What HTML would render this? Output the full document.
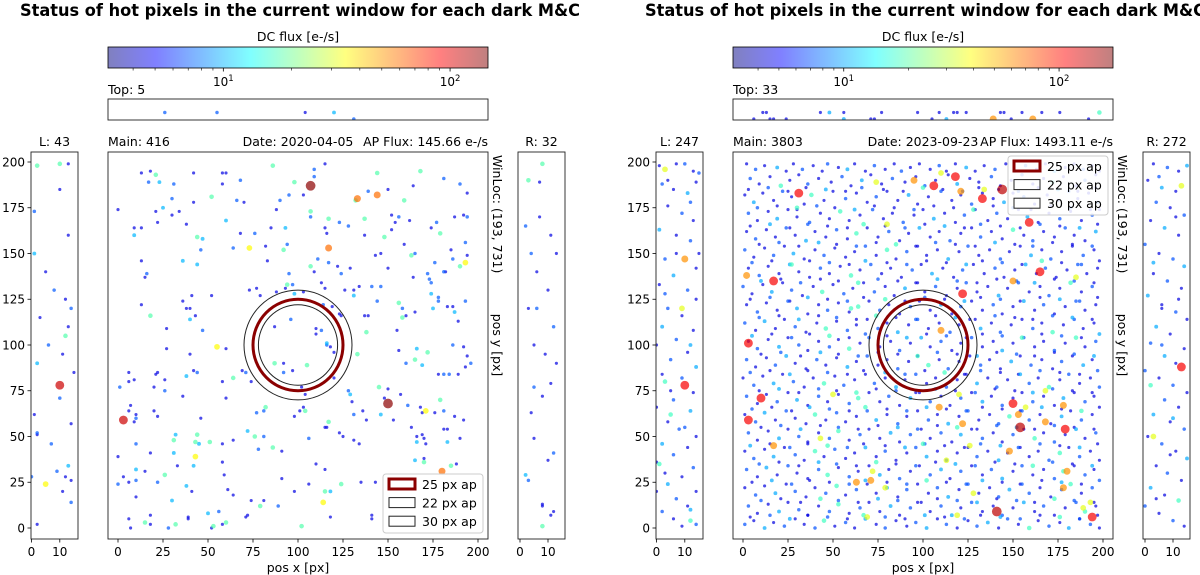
<!DOCTYPE html>
<html><head><meta charset="utf-8">
<style>
html,body{margin:0;padding:0;background:#fff;}
svg{display:block;font-family:"DejaVu Sans","Liberation Sans",sans-serif;}
</style></head>
<body>
<svg id="fig" xmlns="http://www.w3.org/2000/svg" width="1200" height="575" viewBox="0 0 1200 575"></svg>
<script>
// ---------- data ----------
const FLUX = {b:4.5,l:7,c:10,g:18,y:35,o:60,r:110,d:140};
const axisTicks = [0,25,50,75,100,125,150,175,200];
const stripTicks = [0,10];
const cbarMajor = [10,100];
const cbarMajorLabels = ["1","2"];
const cbarMinor = [4,5,6,7,8,9,20,30,40,50,60,70,80,90];
const apertureRadii = [25,22,30];
const legendLabels = ["25 px ap","22 px ap","30 px ap"];

const leftTitleTexts = ["Top: 5","L: 43","Main: 416","Date: 2020-04-05","AP Flux: 145.66 e-/s","R: 32"];
const rightTitleTexts = ["Top: 33","L: 247","Main: 3803","Date: 2023-09-23","AP Flux: 1493.11 e-/s","R: 272"];

const leftMainPts = "13,194,b 18,195,b 21,193,g 17,189,l 23,189,c 31,188,l 42,194,b 58,194,b 60,194,b 58,188,b 68,190,l 86,198,g 109,196,l 115,199,b 98,189,g 107,187,d 109,192,l 144,194,g 168,195,g 181,191,l 190,188,l 194,183,b 133,180,o 144,182,o 132,179,g 159,179,g 164,187,b 150,185,b 139,184,l 0,174,b 21,173,b 25,175,c 30,180,l 34,173,b 42,178,b 52,181,g 66,179,l 70,178,b 88,174,b 90,179,l 95,182,l 103,182,b 107,173,g 107,170,l 117,169,g 123,167,l 128,165,l 137,169,g 152,171,b 156,170,l 162,168,b 177,167,l 187,170,b 192,171,b 194,170,l 9,164,b 13,164,b 9,160,c 22,167,b 30,171,b 38,166,b 60,168,c 44,159,g 47,158,c 68,161,b 76,161,l 85,164,b 93,164,c 115,164,b 116,161,b 137,160,b 148,159,g 152,163,b 154,167,b 174,164,b 179,161,g 193,156,l 73,153,y 46,152,l 64,153,l 82,154,b 92,152,g 94,155,l 117,153,o 13,146,b 36,146,c 44,144,c 83,146,b 111,147,l 117,145,l 107,143,g 109,140,b 122,143,b 124,139,l 129,142,b 143,149,b 146,150,b 150,142,b 159,155,b 163,149,g 165,150,l 176,145,l 181,140,l 185,152,b 186,147,l 190,143,g 193,145,y 194,149,b 15,137,b 16,139,l 95,139,l 94,133,g 97,133,l 93,131,b 77,131,b 73,130,b 79,127,b 52,127,b 41,127,b 13,122,b 36,124,b 38,120,b 40,120,b 18,116,g 40,114,c 43,116,b 27,109,b 47,108,l 113,134,b 115,131,b 126,130,b 131,130,b 131,127,c 134,132,b 141,132,l 146,132,l 144,124,l 156,123,g 158,120,l 160,116,b 158,115,g 165,118,b 137,116,b 139,116,b 138,107,g 155,108,b 164,137,b 172,139,l 173,136,l 174,134,l 174,128,c 178,126,l 178,124,l 183,121,b 186,121,b 187,118,c 189,113,b 175,120,c 182,140,b 193,124,l 186,100,l 192,99,b 166,98,c 55,99,y 60,98,b 27,98,b 96,114,l 87,110,b 110,109,b 113,108,l 110,106,b 116,101,c 114,122,l 119,121,b 123,117,b 124,116,b 103,129,b 98,128,c 88,129,b 40,95,b 6,85,b 6,80,b 9,81,b 1,77,l 21,84,b 22,85,b 26,81,b 20,77,b 26,75,l 38,83,c 42,86,b 44,85,l 36,72,b 58,80,b 64,82,g 69,86,b 71,85,l 74,80,b 60,71,b 87,90,g 92,90,b 92,85,l 97,86,b 105,89,g 102,77,b 104,73,b 116,100,l 118,99,b 120,96,b 133,95,g 120,82,b 128,75,l 129,73,c 130,69,b 145,77,g 150,76,b 150,68,d 148,71,b 156,97,b 172,96,g 160,90,l 165,92,g 169,89,c 194,94,b 196,90,l 193,88,b 178,84,b 181,84,l 184,84,l 189,84,b 179,70,g 181,64,l 176,63,b 171,64,y 168,66,b 169,63,b 161,67,l 157,73,b 153,59,b 163,55,b 166,50,b 169,51,b 170,49,b 166,47,c 171,46,b 181,54,b 183,54,b 190,49,b 183,47,c 187,61,b 192,59,b 165,37,c 170,38,b 170,36,g 180,31,o 185,34,g 188,35,b 3,59,r 10,62,b 10,60,l 6,64,b 7,67,b 9,58,b 20,64,b 22,61,b 46,60,b 31,48,g 32,51,c 43,47,g 44,51,g 45,46,c 51,47,g 58,46,b 64,48,b 72,53,c 76,50,g 81,50,l 78,43,l 86,44,g 91,42,b 77,63,l 82,66,g 81,64,l 98,61,b 101,64,b 104,64,g 103,66,b 117,58,g 115,55,b 116,55,b 106,49,l 123,52,b 125,50,b 131,48,b 134,46,b 131,62,l 138,59,b 136,64,b 146,62,c 0,39,b 10,46,l 18,41,b 31,41,c 33,34,b 42,34,c 43,39,y 58,36,b 59,29,b 10,32,c 15,31,b 3,28,b 6,25,b 0,24,l 10,26,l 22,25,l 26,29,g 38,23,c 41,20,b 10,17,b 30,15,c 61,21,b 64,18,b 74,15,b 81,15,b 79,12,g 89,12,l 91,27,b 98,20,b 106,24,b 110,35,b 115,32,b 124,24,g 115,20,g 118,20,c 114,14,y 118,6,b 135,25,b 143,25,b 141,7,b 141,5,b 6,5,b 7,0,b 15,3,g 18,2,b 18,7,b 28,0,l 32,2,g 39,6,b 39,5,b 50,8,c 53,1,g 52,0,b 56,9,l 58,2,b 60,3,g 71,6,b 72,7,b 102,1,g";
const leftLStripPts = "2,198,g 10,199,g 13,199,b 10,185,b 1,173,l 13,160,b 1,150,c 12,125,b 14,120,l 6,100,l 2,90,c 12,105,g 13,110,b 10,78,r 10,71,l 14,57,b 2,52,l 2,51,b 7,46,l 13,34,c 9,31,l 12,28,b 0,28,l 5,24,y 14,26,b 11,20,b 14,14,l 2,2,b 5,140,b 8,130,l 3,115,b 11,95,b 1,62,b 15,85,b";
const leftRStripPts = "8,199,g 3,190,g 7,189,b 4,150,l 6,140,b 10,130,b 3,120,b 12,110,l 5,100,b 9,95,b 11,160,b 2,165,l 7,170,b 13,90,b 5,77,l 11,79,b 8,72,b 4,63,b 5,49,b 12,41,l 10,37,b 2,29,c 3,26,l 8,13,b 8,12,b 12,9,b 11,7,b 8,1,g 13,150,b 6,120,l";
const leftTopStripPts = "26,3,l 55,3,l 104,3,b 120,3,c 131,0.5,l";

const rightMainPts = "2,199,b 7,196,l 12,198,b 19,197,c 24,195,b 28,199,b 33,196,l 39,198,b 44,195,b 47,199,l 53,197,b 58,196,c 62,199,b 68,195,b 73,198,l 79,196,b 84,199,b 88,195,l 93,197,b 98,199,b 104,196,b 109,198,l 113,195,b 118,199,b 124,197,c 129,195,b 134,198,b 140,196,l 146,199,b 151,195,b 157,198,l 163,196,b 168,199,b 173,195,c 179,197,b 184,199,b 189,196,l 194,198,b 198,195,b "+
"4,191,l 9,188,b 15,192,b 21,187,g 26,190,b 31,193,b 36,188,l 42,191,b 49,189,b 55,192,l 60,187,b 66,190,c 71,193,b 77,188,b 83,191,l 90,189,b 96,192,b 101,187,l 107,190,b 114,193,b 119,188,c 126,191,b 131,189,b 138,192,l 143,187,b 149,190,b 155,193,l 161,188,b 167,191,b 172,189,g 178,192,b 185,187,b 190,190,l 196,193,b "+
"1,182,b 6,178,c 11,183,b 17,179,b 22,184,l 27,181,b 34,177,b 38,182,g 45,179,b 50,184,b 57,180,l 63,183,b 69,178,b 74,181,l 80,184,b 86,179,b 92,182,c 97,177,b 103,181,b 110,184,l 116,179,b 121,182,b 127,177,l 133,183,b 139,180,b 145,178,c 150,183,b 156,181,l 162,177,b 169,182,b 175,179,b 181,184,l 186,180,b 192,183,b 197,178,l "+
"3,172,l 8,168,b 14,173,b 19,169,c 25,174,b 30,170,b 37,167,l 43,172,b 48,169,b 54,173,g 59,168,b 65,171,b 72,174,l 78,169,b 83,172,b 89,167,l 95,171,b 100,174,b 106,169,c 112,172,b 118,167,b 123,171,l 129,174,b 136,168,b 141,172,l 147,169,b 153,174,b 158,170,c 164,167,b 170,172,b 176,169,l 182,173,b 188,168,b 194,171,l 198,174,b "+
"2,162,b 7,158,l 13,163,b 18,159,b 24,164,l 29,160,b 35,157,c 40,162,b 46,159,b 52,163,l 58,158,b 63,161,g 69,164,b 75,159,b 81,162,l 87,157,b 92,161,b 98,164,c 104,159,b 109,162,b 115,157,l 121,161,b 127,164,b 132,159,l 138,162,b 144,158,b 150,163,g 156,160,b 161,157,l 167,162,b 173,159,b 179,164,l 184,160,b 190,157,b 196,162,c "+
"1,152,l 6,148,b 12,153,b 17,149,l 23,154,b 28,150,c 34,147,b 40,152,b 45,149,l 51,153,b 57,148,b 62,151,b 68,154,l 74,149,b 80,152,g 85,147,b 91,151,l 97,154,b 102,149,b 108,152,b 114,147,c 120,151,b 125,154,l 131,149,b 137,152,b 143,147,l 148,151,b 154,154,b 160,149,c 166,152,b 171,147,l 177,151,b 183,154,b 189,149,l 195,152,b "+
"3,142,b 9,138,l 14,143,b 20,139,b 26,144,c 31,140,b 37,137,b 43,142,l 48,139,b 54,143,b 60,138,g 65,141,b 71,144,l 77,139,b 82,142,b 88,137,b 94,141,l 99,144,b 105,139,c 111,142,b 117,137,b 122,141,l 128,144,b 134,139,b 140,142,l 145,137,b 151,141,b 157,144,c 163,139,b 168,142,l 174,137,b 180,141,b 186,144,l 191,139,b 197,142,b "+
"0,132,l 5,128,b 11,133,b 16,129,c 22,134,b 27,130,l 33,127,b 39,132,b 44,129,g 50,133,b 56,128,l 61,131,b 67,134,b 73,129,l 79,132,b 84,127,b 90,131,c 96,134,b 101,129,b 107,132,l 113,127,b 119,131,b 124,134,l 130,129,b 136,132,b 142,127,c 147,131,b 153,134,l 159,129,b 165,132,b 170,127,l 176,131,b 182,134,g 188,129,b 194,132,l "+
"2,122,b 8,118,l 13,123,b 19,119,b 25,124,l 30,120,c 36,117,b 42,122,b 47,119,l 53,123,b 59,118,b 64,121,g 70,124,b 76,119,l 81,122,b 87,117,b 93,121,l 98,124,b 104,119,b 110,122,c 116,117,b 121,121,l 127,124,b 133,119,b 139,122,l 144,117,b 150,121,b 156,124,c 162,119,b 167,122,l 173,117,b 179,121,b 185,124,l 190,119,b 196,122,b "+
"1,112,l 7,108,b 12,113,c 18,109,b 23,114,b 29,110,l 35,107,b 41,112,b 46,109,g 52,113,b 58,108,l 63,111,b 69,114,b 75,109,l 80,112,b 86,107,c 92,111,b 97,114,l 103,109,b 109,112,b 115,107,l 120,111,b 126,114,b 132,109,c 138,112,b 143,107,l 149,111,b 155,114,b 161,109,l 166,112,b 172,107,g 178,111,b 184,114,l 189,109,b 195,112,b "+
"3,102,b 8,98,l 14,103,b 20,99,c 25,104,b 31,100,l 36,97,b 42,102,b 48,99,l 53,103,b 59,98,g 65,101,b 70,104,l 76,99,b 82,102,b 87,97,l 93,101,b 99,104,c 104,99,b 110,102,l 116,97,b 121,101,b 127,104,l 133,99,b 139,102,b 144,97,c 150,101,b 156,104,l 162,99,b 167,102,b 173,97,l 179,101,b 185,104,g 190,99,b 196,102,l "+
"2,92,l 7,88,b 13,93,b 18,89,l 24,94,c 29,90,b 35,87,b 41,92,l 46,89,b 52,93,b 58,88,c 63,91,b 69,94,l 75,89,b 80,92,b 86,87,l 92,91,b 97,94,b 103,89,g 109,92,b 114,87,l 120,91,b 126,94,b 132,89,l 137,92,b 143,87,b 149,91,c 154,94,b 160,89,l 166,92,b 172,87,b 177,91,l 183,94,b 189,89,c 194,92,b "+
"0,82,b 6,78,l 11,83,b 17,79,c 22,84,b 28,80,l 34,77,b 39,82,b 45,79,g 51,83,b 56,78,l 62,81,b 68,84,b 73,79,l 79,82,b 85,77,c 90,81,b 96,84,l 102,79,b 107,82,b 113,77,l 119,81,b 124,84,b 130,79,c 136,82,b 141,77,l 147,81,b 153,84,b 159,79,l 164,82,b 170,77,g 176,81,b 181,84,l 187,79,b 193,82,b 198,77,l "+
"2,72,l 8,68,b 13,73,b 19,69,l 25,74,b 30,70,c 36,67,b 42,72,l 47,69,b 53,73,b 59,68,l 64,71,g 70,74,b 76,69,b 81,72,l 87,67,b 93,71,c 98,74,b 104,69,l 110,72,b 115,67,b 121,71,l 127,74,b 133,69,c 138,72,b 144,67,l 150,71,b 155,74,b 161,69,l 167,72,b 173,67,b 178,71,c 184,74,b 190,69,l 195,72,b "+
"1,62,b 7,58,l 12,63,c 18,59,b 24,64,l 29,60,b 35,57,b 40,62,g 46,59,b 52,63,l 57,58,b 63,61,b 69,64,l 74,59,c 80,62,b 86,57,l 91,61,b 97,64,b 103,59,l 108,62,b 114,57,c 120,61,b 125,64,l 131,59,b 137,62,b 142,57,l 148,61,g 154,64,b 159,59,l 165,62,b 171,57,b 177,61,c 182,64,b 188,59,l 194,62,b "+
"3,52,l 8,48,b 14,53,b 20,49,c 25,54,b 31,50,l 36,47,b 42,52,b 48,49,l 53,53,g 59,48,b 65,51,l 70,54,b 76,49,b 82,52,c 87,47,b 93,51,l 99,54,b 104,49,b 110,52,l 116,47,b 121,51,c 127,54,b 133,49,l 139,52,b 144,47,b 150,51,l 156,54,b 162,49,g 167,52,b 173,47,l 179,51,b 185,54,c 190,49,b 196,52,l "+
"1,42,b 6,38,l 12,43,b 17,39,c 23,44,b 29,40,l 34,37,b 40,42,g 45,39,b 51,43,l 57,38,b 62,41,b 68,44,c 74,39,b 79,42,l 85,37,b 91,41,b 96,44,l 102,39,c 108,42,b 113,37,l 119,41,b 125,44,b 130,39,l 136,42,b 142,37,c 147,41,b 153,44,l 159,39,b 164,42,b 170,37,l 176,41,g 181,44,b 187,39,l 193,42,b 198,37,b "+
"2,32,l 8,28,b 13,33,c 19,29,b 25,34,l 30,30,b 36,27,b 42,32,l 47,29,g 53,33,b 59,28,l 64,31,b 70,34,b 76,29,c 81,32,b 87,27,l 93,31,b 98,34,b 104,29,l 110,32,c 115,27,b 121,31,l 127,34,b 133,29,b 138,32,l 144,27,c 150,31,b 155,34,l 161,29,b 167,32,b 173,27,l 178,31,g 184,34,b 190,29,l 195,32,b "+
"1,22,b 7,18,l 12,23,b 18,19,c 24,24,b 29,20,l 35,17,b 40,22,b 46,19,l 52,23,g 57,18,b 63,21,l 69,24,b 74,19,b 80,22,c 86,17,b 91,21,l 97,24,b 103,19,b 108,22,l 114,17,c 120,21,b 125,24,l 131,19,b 137,22,b 142,17,l 148,21,c 154,24,b 159,19,l 165,22,b 171,17,b 177,21,l 182,24,g 188,19,b 194,22,l "+
"3,12,l 8,8,b 14,13,b 20,9,c 25,14,b 31,10,l 36,7,b 42,12,b 48,9,l 53,13,g 59,8,b 65,11,l 70,14,b 76,9,b 82,12,c 87,7,b 93,11,l 99,14,b 104,9,b 110,12,l 116,7,c 121,11,b 127,14,l 133,9,b 139,12,b 144,7,l 150,11,b 156,14,c 162,9,b 167,12,l 173,7,b 179,11,b 185,14,l 190,9,g 196,12,b "+
"1,2,l 6,4,b 12,0,c 17,3,b 23,1,l 29,5,b 34,2,b 40,0,l 45,4,g 51,1,b 57,3,l 62,0,b 68,5,c 74,2,b 79,0,l 85,4,b 91,1,b 96,3,l 102,0,c 108,5,b 113,2,l 119,0,b 125,4,b 130,1,l 136,3,c 142,0,b 147,5,l 153,2,b 159,0,g 164,4,b 170,1,l 176,3,b 181,0,c 187,5,b 193,2,l 198,0,b";
const rightMainExtraPts = "3,185,b 14,186,l 25,184,b 35,186,b 46,185,c 57,184,b 66,186,l 78,185,b 89,184,b 100,186,g 111,185,b 122,184,l 131,186,b 142,185,b 153,184,l 164,186,b 175,185,c 186,184,b 196,186,b "+
"8,175,l 19,176,b 30,174,b 41,176,l 51,175,b 62,174,c 73,176,b 84,175,b 95,174,l 106,176,b 117,175,b 128,174,g 139,176,b 150,175,l 160,174,b 171,176,b 182,175,l 193,174,b "+
"4,165,b 15,166,c 26,164,b 36,166,l 47,165,b 58,164,b 67,166,g 79,165,b 90,164,l 101,166,b 112,165,c 123,164,b 132,166,l 143,165,b 154,164,b 165,166,l 176,165,b 187,164,c 197,166,b "+
"9,155,b 20,156,l 31,154,b 42,156,c 52,155,b 63,154,l 74,156,b 85,155,g 96,154,b 107,156,l 118,155,b 129,154,b 140,156,c 151,155,b 161,154,l 172,156,b 183,155,b 194,154,l "+
"5,145,l 16,146,b 27,144,g 37,146,b 48,145,l 59,144,b 68,146,c 80,145,b 91,144,l 102,146,b 113,145,b 124,144,c 133,146,b 144,145,l 155,144,b 166,146,g 177,145,b 188,144,l 198,146,b "+
"10,135,c 21,136,b 32,134,l 43,136,b 53,135,b 64,134,g 75,136,l 86,135,b 97,134,b 108,136,c 119,135,l 130,134,b 141,136,b 152,135,l 162,134,c 173,136,b 184,135,l 195,134,b "+
"4,125,b 15,126,l 26,124,b 36,126,c 47,125,b 58,124,l 67,126,b 79,125,g 90,124,b 101,126,l 112,125,b 123,124,c 132,126,b 143,125,l 154,124,b 165,126,b 176,125,c 187,124,l 197,126,b "+
"9,115,l 20,116,b 31,114,c 42,116,b 52,115,l 63,114,b 74,116,g 85,115,b 96,114,l 107,116,b 118,115,c 129,114,b 140,116,l 151,115,b 161,114,b 172,116,l 183,115,c 194,114,b "+
"5,105,c 16,106,b 27,104,l 37,106,b 48,105,g 59,104,b 68,106,l 80,105,b 91,104,c 102,106,b 113,105,l 124,104,b 133,106,b 144,105,l 155,104,g 166,106,b 177,105,l 188,104,b 198,106,c "+
"10,95,b 21,96,l 32,94,b 43,96,c 53,95,b 64,94,l 75,96,b 86,95,b 97,94,g 108,96,l 119,95,b 130,94,c 141,96,b 152,95,l 162,94,b 173,96,b 184,95,l 195,94,c "+
"4,85,l 15,86,b 26,84,c 36,86,b 47,85,l 58,84,b 67,86,b 79,85,c 90,84,l 101,86,b 112,85,g 123,84,b 132,86,l 143,85,b 154,84,c 165,86,l 176,85,b 187,84,b 197,86,l "+
"9,75,b 20,76,c 31,74,b 42,76,l 52,75,b 63,74,g 74,76,b 85,75,l 96,74,b 107,76,c 118,75,b 129,74,l 140,76,b 151,75,b 161,74,c 172,76,l 183,75,b 194,74,b "+
"5,65,l 16,66,b 27,64,b 37,66,c 48,65,l 59,64,b 68,66,g 80,65,b 91,64,l 102,66,c 113,65,b 124,64,l 133,66,b 144,65,b 155,64,l 166,66,c 177,65,b 188,64,g 198,66,b "+
"10,55,b 21,56,l 32,54,c 43,56,b 53,55,l 64,54,b 75,56,b 86,55,c 97,54,l 108,56,b 119,55,g 130,54,b 141,56,l 152,55,c 162,54,b 173,56,l 184,55,b 195,54,b "+
"4,45,c 15,46,b 26,44,l 36,46,b 47,45,g 58,44,l 67,46,b 79,45,b 90,44,c 101,46,l 112,45,b 123,44,b 132,46,l 143,45,c 154,44,b 165,46,l 176,45,b 187,44,c 197,46,b "+
"9,35,l 20,36,b 31,34,b 42,36,c 52,35,l 63,34,b 74,36,g 85,35,b 96,34,l 107,36,b 118,35,c 129,34,l 140,36,b 151,35,b 161,34,g 172,36,l 183,35,b 194,34,c "+
"5,25,b 16,26,c 27,24,l 37,26,b 48,25,b 59,24,l 68,26,c 80,25,b 91,24,l 102,26,g 113,25,b 124,24,l 133,26,c 144,25,b 155,24,l 166,26,b 177,25,c 188,24,b 198,26,l "+
"10,15,l 21,16,b 32,14,b 43,16,g 53,15,l 64,14,b 75,16,c 86,15,l 97,14,b 108,16,b 119,15,l 130,14,c 141,16,b 152,15,l 162,14,b 173,16,g 184,15,l 195,14,b "+
"4,6,b 15,7,l 26,5,c 36,7,b 47,6,l 58,5,b 67,7,g 79,6,l 90,5,b 101,7,c 112,6,b 123,5,l 132,7,b 143,6,c 154,5,l 165,7,b 176,6,g 187,5,l 197,7,b";
const rightMainBigPts = "10,71,r 3,59,r 17,45,o 63,25,o 71,26,o 72,31,y 79,22,y 109,66,o 122,57,o 126,45,y 150,68,r 153,62,o 154,55,d 168,58,o 178,67,o 179,54,r 180,31,o 178,22,o 148,42,o 141,9,d 194,6,r 168,75,y 50,73,y 120,73,y 128,19,y 119,7,y 193,14,y 189,11,y 69,6,y 113,37,y 157,66,y 31,183,r 106,187,r 118,192,r 144,185,d 121,184,o 95,190,o 110,194,y 74,189,y 134,185,y 133,180,r 165,140,r 159,167,r 17,135,r 3,101,r 2,138,o 185,137,y 122,128,r 110,108,o 150,135,o 80,166,y 43,49,y 100,46,g 30,175,g 60,120,g";
const rightLStripPts = "1,198,b 3,196,y 7,199,b 10,199,l 13,195,b 15,194,l 2,188,l 6,185,b 11,183,c 14,189,b 4,176,b 9,172,l 13,168,b 1,163,c 7,160,b 12,157,l 15,150,b 3,147,l 10,147,o 14,142,b 6,138,c 1,133,b 11,130,l 14,125,b 4,120,l 9,116,b 2,110,c 13,108,b 7,103,l 0,100,b 11,96,b 5,92,l 14,88,c 2,84,b 9,82,l 3,80,g 10,78,r 13,74,b 6,70,l 0,66,b 12,64,c 4,58,b 8,54,l 14,50,b 2,46,c 11,44,b 6,40,l 0,36,b 13,33,l 1,35,g 9,28,b 4,24,c 14,20,b 7,16,l 11,12,b 2,9,l 6,5,b 12,4,g 9,1,b 14,2,l 0,20,b 5,62,g 9,120,y 4,190,b 12,178,l 7,150,b 3,128,l 12,100,c 5,75,b 10,55,l 3,30,b 12,10,c";
const rightRStripPts = "3,199,b 8,197,l 12,195,b 15,198,c 1,190,b 6,186,c 11,184,b 13,187,y 4,178,l 9,175,b 14,171,l 2,168,b 7,164,c 12,160,b 0,155,l 5,150,b 10,147,l 14,143,c 3,139,b 8,135,l 13,131,b 1,127,c 6,122,b 11,118,l 15,114,b 4,110,c 9,106,b 2,101,l 14,98,b 7,94,c 11,90,b 0,86,l 13,88,r 5,82,b 10,78,l 2,78,g 15,74,b 7,70,l 12,66,b 3,62,c 9,58,b 14,54,l 1,50,b 3,50,y 6,46,l 11,42,b 15,38,c 4,34,b 8,30,l 13,26,b 2,22,c 7,18,b 12,15,g 0,12,l 5,8,b 10,4,l 14,1,b 9,40,b 6,120,b 5,192,l 11,170,b 3,145,c 12,125,b 6,100,l 10,60,c 4,16,b";
const rightTopStripPts = "11,3,b 13,3,b 6,0.5,b 15,0.5,b 17,0.5,b 24,0.5,b 43,3,b 48,3,c 56,3,b 56,0.5,c 71,0.5,b 73,0.5,b 77,3,b 97,3,b 105,0.5,b 109,3,b 113,0.5,c 117,3,b 119,3,b 124,3,b 139,0.5,o 143,3,b 145,3,b 149,0.5,b 155,3,b 161,0.5,o 166,3,b 176,3,b 192,0.5,b 198,3,g";

// ---------- drawing ----------
const NS = "http://www.w3.org/2000/svg";
const svg = document.getElementById('fig');
function mk(tag, attrs, parent){ const e=document.createElementNS(NS,tag); for(const k in attrs) e.setAttribute(k,attrs[k]); parent.appendChild(e); return e; }
function parse(s){ return s.trim().split(/\s+/).map(t=>{const a=t.split(','); return {x:+a[0],y:+a[1],v:FLUX[a[2]]};}).sort((p,q)=>p.v-q.v); }
function clamp(v){return Math.max(0,Math.min(1,v));}
function jet(t){ return [clamp(1.5-Math.abs(4*t-3)),clamp(1.5-Math.abs(4*t-2)),clamp(1.5-Math.abs(4*t-1))]; }
function rgb(c,a){ return 'rgb('+c.map(v=>Math.round((v*a+(1-a))*255)).join(',')+')'; }
function txt(x,y,s,size,anchor,parent,weight){ const t=mk('text',{x:x,y:y,'font-size':size,'text-anchor':anchor||'start',fill:'#000'},parent); if(weight) t.setAttribute('font-weight',weight); t.textContent=s; return t; }

const defs = mk('defs',{},svg);
const grad = mk('linearGradient',{id:'cmap',x1:'0',x2:'1',y1:'0',y2:'0'},defs);
for(let i=0;i<=40;i++){ const t=i/40; mk('stop',{offset:t,'stop-color':rgb(jet(t),0.5)},grad); }

function drawPanel(P){
  const g = mk('g',{},svg);
  
  
  const dx = P.dx;
  const lv0=Math.log10(P.vmin), lv1=Math.log10(P.vmax);
  const tOf = v => clamp((Math.log10(v)-lv0)/(lv1-lv0));
  const rOf = v => 0.85+0.34*Math.sqrt(v);
  const title = mk('text',{x:20+dx,y:16,'font-size':17,'font-weight':'bold',textLength:560,lengthAdjust:'spacingAndGlyphs'},g);
  title.textContent = "Status of hot pixels in the current window for each dark M&C";
  
  
  const cbLabel = txt(298+dx,41,"DC flux [e-/s]",12.5,'middle',g);
  
  
  const cbx0=108+dx, cbx1=488+dx;
  const cb = mk('rect',{x:cbx0,y:47,width:cbx1-cbx0,height:21,fill:'url(#cmap)',stroke:'#000','stroke-width':0.8},g);
  
  
  const cbX = v => cbx0 + tOf(v)*(cbx1-cbx0);
  cbarMinor.forEach(v=>{ if(v<P.vmin||v>P.vmax) return; const l=mk('line',{x1:cbX(v),x2:cbX(v),y1:68,y2:70.5,stroke:'#000','stroke-width':0.6},g);
    
     });
  cbarMajor.forEach((v,i)=>{ const x=cbX(v); const l=mk('line',{x1:x,x2:x,y1:68,y2:71.5,stroke:'#000','stroke-width':0.8},g);
    
    
    const t=mk('text',{x:x,y:86,'font-size':12,'text-anchor':'middle'},g);
    
    
    const a=mk('tspan',{},t); a.textContent='10';
    const b=mk('tspan',{dy:-5,'font-size':8.5},t); b.textContent=cbarMajorLabels[i]; });

  const mainX = x => 118+dx+1.8*x, mainY = y => 528-1.83*y;
  const axes = [
    {name:'top-strip', box:[108+dx,99,488+dx,120], X:mainX, Y:y=>120.3-2.6*y, pts:P.top},
    {name:'main-panel', box:[108+dx,152,488+dx,539], X:mainX, Y:mainY, pts:P.main},
    {name:'left-strip', box:[31+dx,152,78+dx,539], X:x=>31.5+dx+2.83*x, Y:mainY, pts:P.left},
    {name:'right-strip', box:[518+dx,152,565+dx,539], X:x=>520+dx+2.8*x, Y:mainY, pts:P.right}
  ];
  axes.forEach((A,ai)=>{
    const [x0,y0,x1,y1]=A.box;
    const cid='clip'+P.dx+'_'+ai;
    const cp=mk('clipPath',{id:cid},defs); mk('rect',{x:x0,y:y0,width:x1-x0,height:y1-y0},cp);
    const ag=mk('g',{'clip-path':'url(#'+cid+')'},g);
    
    
    parse(A.pts).forEach(p=>{
      const c=mk('circle',{cx:A.X(p.x),cy:A.Y(p.y),r:rOf(p.v),fill:rgb(jet(tOf(p.v)),1),'fill-opacity':0.7},ag);
      
      
    });
    const fr=mk('rect',{x:x0,y:y0,width:x1-x0,height:y1-y0,fill:'none',stroke:'#222','stroke-width':0.9},g);
    
    
  });

  const apG=mk('g',{},g);
  
  
  apertureRadii.forEach((r,i)=>{ const c=mk('ellipse',{cx:mainX(100),cy:mainY(100),rx:r*1.8,ry:r*1.83,fill:'none',stroke:i===0?'#8b0000':'#222','stroke-width':i===0?3:1},apG);
    
     });

  axisTicks.forEach(v=>{ const x=mainX(v); const l=mk('line',{x1:x,x2:x,y1:539,y2:542.5,stroke:'#000','stroke-width':0.8},g);
    
    
    const t=txt(x,556,String(v),12,'middle',g);
    
     });
  const xl=txt(298+dx,572,"pos x [px]",12.5,'middle',g);
  
  
  axisTicks.forEach(v=>{ const y=mainY(v); const l=mk('line',{x1:27.5+dx,x2:31+dx,y1:y,y2:y,stroke:'#000','stroke-width':0.8},g);
    
    
    const t=txt(25+dx,y+4.3,String(v),12,'end',g);
    
     });
  [[x=>31.5+dx+2.83*x],[x=>520+dx+2.8*x]].forEach(f=>{ stripTicks.forEach(v=>{ const x=f[0](v);
    const l=mk('line',{x1:x,x2:x,y1:539,y2:542.5,stroke:'#000','stroke-width':0.8},g);
    
    
    const t=txt(x,556,String(v),12,'middle',g);
    
     }); });

  const T=P.texts;
  const h=[[108+dx,94,T[0],'start','top-count'],[54.5+dx,146,T[1],'middle','left-count'],[108+dx,146,T[2],'start','main-count'],
           [298+dx,146,T[3],'middle','date-label'],[488+dx,146,T[4],'end','ap-flux-label'],[541.5+dx,146,T[5],'middle','right-count']];
  h.forEach(a=>{ const t=txt(a[0],a[1],a[2],12.5,a[3],g);   });
  const w=mk('text',{x:0,y:0,'font-size':12.5,transform:'translate('+(493+dx)+',155) rotate(90)'},g);
  w.textContent="WinLoc: (193, 731)";
  
  
  const yl=mk('text',{x:0,y:0,'font-size':12.5,'text-anchor':'middle',transform:'translate('+(493+dx)+',345) rotate(90)'},g);
  yl.textContent="pos y [px]";
  
  

  const L=P.legend;
  const lg=mk('g',{},g);
  
  
  mk('rect',{x:L[0]+dx,y:L[1],width:100,height:59,rx:3,fill:'#fff','fill-opacity':0.85,stroke:'#ccc','stroke-width':1},lg);
  legendLabels.forEach((s,i)=>{ const y=L[1]+5+i*18.6;
    const p=mk('rect',{x:L[0]+dx+6,y:y,width:26,height:10,fill:'none',stroke:i===0?'#8b0000':'#222','stroke-width':i===0?3:1},lg);
    
    
    const t=txt(L[0]+dx+39,y+10,s,12.5,'start',lg);
    
     });
}

drawPanel({name:'panel-2020', dx:0, vmin:3.1, vmax:147, texts:leftTitleTexts, legend:[383,474],
  main:leftMainPts, left:leftLStripPts, right:leftRStripPts, top:leftTopStripPts});
drawPanel({name:'panel-2023', dx:625, vmin:3.06, vmax:178, texts:rightTitleTexts, legend:[383,156],
  main:rightMainPts+" "+rightMainExtraPts+" "+rightMainBigPts, left:rightLStripPts, right:rightRStripPts, top:rightTopStripPts});
</script>
</body></html>
